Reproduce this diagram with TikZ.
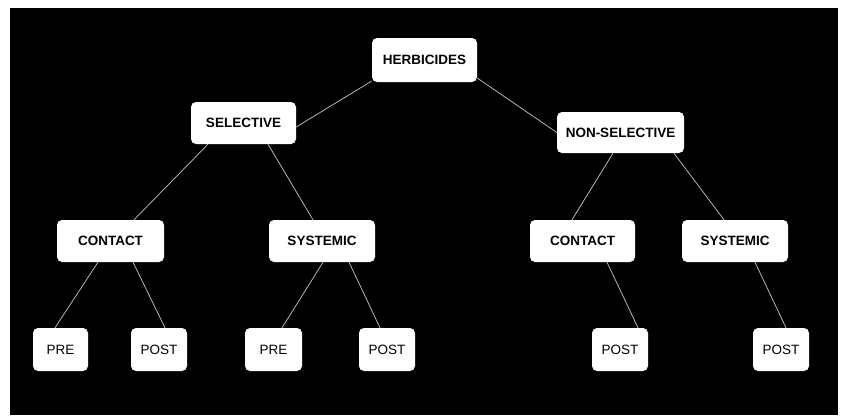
\documentclass[tikz,border=0pt]{standalone}
\usepackage{fontspec}
\setmainfont{Liberation Sans}
\begin{document}
\begin{tikzpicture}[x=1pt,y=-1pt,
    box/.style={fill=white, rounded corners=5pt, inner sep=0pt, minimum height=42pt, font=\fontsize{13.5}{15}\selectfont\bfseries},
    leaf/.style={box, minimum width=56pt, minimum height=43pt, font=\fontsize{13.5}{15}\selectfont},
    link/.style={draw=white!78!black, line width=0.7pt}]
    \fill[white] (0,0) rectangle (843,415);
    \fill[black] (10,8) rectangle (838,415);
    \useasboundingbox (0,0) rectangle (843,415);
    \node[box, minimum width=105pt, minimum height=44pt] (herb) at (424.5,60) {HERBICIDES};
    \node[box, minimum width=105pt] (sel) at (243.5,123) {SELECTIVE};
    \node[box, minimum width=127pt, minimum height=41pt] (nonsel) at (620.5,132.5) {NON-SELECTIVE};
    \node[box, minimum width=107pt] (selcon) at (110.5,241) {CONTACT};
    \node[box, minimum width=106pt] (selsys) at (322,241) {SYSTEMIC};
    \node[box, minimum width=105pt] (noncon) at (582.5,241) {CONTACT};
    \node[box, minimum width=106pt] (nonsys) at (735,241) {SYSTEMIC};
    \node[leaf, minimum width=55pt] (selconpre) at (60.5,349.5) {PRE};
    \node[leaf] (selconpost) at (159,349.5) {POST};
    \node[leaf, minimum width=57pt] (selsyspre) at (273.5,349.5) {PRE};
    \node[leaf] (selsyspost) at (387,349.5) {POST};
    \node[leaf] (nonconpost) at (620,349.5) {POST};
    \node[leaf] (nonsyspost) at (781,349.5) {POST};
    \draw[link] ([yshift=-21pt]herb.west) -- ([yshift=-4pt]sel.east);
    \draw[link] ([yshift=-18pt]herb.east) -- (nonsel.west);
    \draw[link] ([xshift=-35.5pt]sel.south) -- ([xshift=23.5pt]selcon.north);
    \draw[link] ([xshift=24.5pt]sel.south) -- ([xshift=-9pt]selsys.north);
    \draw[link] ([xshift=-7.5pt]nonsel.south) -- ([xshift=-10.5pt]noncon.north);
    \draw[link] ([xshift=53.5pt]nonsel.south) -- ([xshift=-11pt]nonsys.north);
    \draw[link] ([xshift=-12.5pt]selcon.south) -- ([xshift=-5.5pt]selconpre.north);
    \draw[link] ([xshift=22.5pt]selcon.south) -- ([xshift=6pt]selconpost.north);
    \draw[link] ([xshift=1pt]selsys.south) -- ([xshift=8.5pt]selsyspre.north);
    \draw[link] ([xshift=27pt]selsys.south) -- ([xshift=-7pt]selsyspost.north);
    \draw[link] ([xshift=24.5pt]noncon.south) -- ([xshift=18pt]nonconpost.north);
    \draw[link] ([xshift=20pt]nonsys.south) -- ([xshift=5pt]nonsyspost.north);
\end{tikzpicture}
\end{document}
